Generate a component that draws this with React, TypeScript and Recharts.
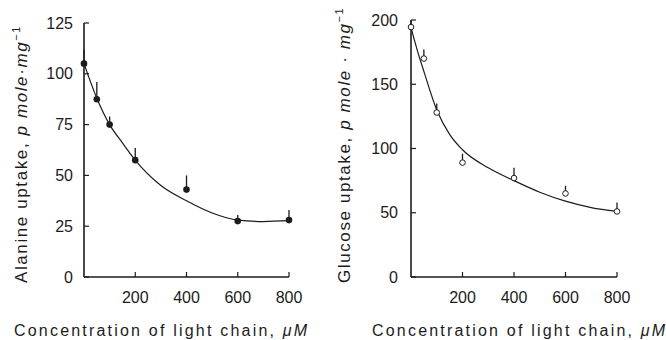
import React from 'react';
import { ComposedChart, Line, Scatter, ErrorBar, XAxis, YAxis, Label } from 'recharts';

// concentration of light chain (µM)
const doses = [0, 50, 100, 200, 400, 600, 800];
const xTicks = [200, 400, 600, 800];

// alanine uptake (left panel)
const alanineMeans = [105, 87.5, 75, 57.5, 43, 27.5, 28];
const alanineErrUp = [7, 8.5, 4, 6, 7, 3, 5];
const alanineCurveX = [0, 50, 100, 150, 200, 300, 400, 500, 600, 700, 800];
const alanineCurveY = [105, 88, 75, 66, 57.5, 45, 37.5, 31.5, 28, 27.3, 27.7];
const alanineTicks = [0, 25, 50, 75, 100, 125];

// glucose uptake (right panel)
const glucoseMeans = [194.5, 170, 128, 89, 77, 65, 51];
const glucoseErrUp = [5, 7, 7, 7, 8, 6, 7];
const glucoseCurveX = [0, 25, 50, 100, 150, 200, 300, 400, 500, 600, 700, 800];
const glucoseCurveY = [194, 176, 160, 130, 111, 99, 85, 75, 66, 59, 54, 51];
const glucoseTicks = [0, 50, 100, 150, 200];

const FONT = '"Liberation Sans", Arial, sans-serif';
const INK = '#1c1c1c';

const toPoints = (means: number[], errUp: number[]) =>
  doses.map((x, i) => ({ x, y: means[i], err: [0, errUp[i]] }));

const toCurve = (xs: number[], ys: number[]) => xs.map((x, i) => ({ x, y: ys[i] }));

type PanelProps = {
  points: { x: number; y: number; err: number[] }[];
  curve: { x: number; y: number }[];
  yTicks: number[];
  yMax: number;
  filled: boolean;
  margin: { top: number; right: number; bottom: number; left: number };
  yWidth: number;
  yTickMargin: number;
  yLabel: React.ReactNode;
  yLabelX: number;
  xTitleX: number;
};

const Panel: React.FC<PanelProps> = (p) => {
  const dot = (props: any) =>
    p.filled ? (
      <circle cx={props.cx} cy={props.cy} r={3.3} fill={INK} />
    ) : (
      <circle cx={props.cx} cy={props.cy} r={2.8} fill="#fff" stroke={INK} strokeWidth={1} />
    );

  return (
    <ComposedChart width={333} height={340} margin={p.margin}>
      <XAxis
        type="number"
        dataKey="x"
        domain={[0, 800]}
        ticks={xTicks}
        height={30}
        tickSize={-5}
        tickMargin={20}
        axisLine={{ stroke: INK, strokeWidth: 1.4 }}
        tickLine={{ stroke: INK, strokeWidth: 1.2 }}
        tick={{ fill: INK, fontSize: 16, fontFamily: FONT }}
      >
        <Label
          content={() => (
            <text
              x={p.xTitleX}
              y={336}
              fill={INK}
              fontSize={16}
              fontFamily={FONT}
              letterSpacing={2.2}
            >
              Concentration of light chain, <tspan fontStyle="italic">μM</tspan>
            </text>
          )}
        />
      </XAxis>
      <YAxis
        type="number"
        domain={[0, p.yMax]}
        ticks={p.yTicks}
        width={p.yWidth}
        tickSize={-5}
        tickMargin={p.yTickMargin}
        axisLine={{ stroke: INK, strokeWidth: 1.6 }}
        tickLine={{ stroke: INK, strokeWidth: 1.2 }}
        tick={{ fill: INK, fontSize: 16, fontFamily: FONT }}
      >
        <Label
          content={() => (
            <text
              x={p.yLabelX}
              y={283}
              transform={`rotate(-90, ${p.yLabelX}, 283)`}
              fill={INK}
              fontSize={17}
              fontFamily={FONT}
              letterSpacing={1.6}
            >
              {p.yLabel}
            </text>
          )}
        />
      </YAxis>
      <Line
        data={p.curve}
        dataKey="y"
        type="monotone"
        dot={false}
        stroke={INK}
        strokeWidth={1.2}
        isAnimationActive={false}
      />
      <Scatter data={p.points} dataKey="y" shape={dot} isAnimationActive={false}>
        <ErrorBar dataKey="err" direction="y" width={0} stroke={INK} strokeWidth={1.3} />
      </Scatter>
    </ComposedChart>
  );
};

export default function App() {
  return (
    <div style={{ position: 'absolute', left: 0, top: 0, width: 666, height: 340, background: '#fff' }}>
      <div style={{ position: 'absolute', left: 0, top: 0 }}>
        <Panel
          points={toPoints(alanineMeans, alanineErrUp)}
          curve={toCurve(alanineCurveX, alanineCurveY)}
          yTicks={alanineTicks}
          yMax={125}
          filled
          margin={{ top: 23, right: 44, bottom: 33, left: 0 }}
          yWidth={84}
          yTickMargin={16}
          yLabelX={27}
          xTitleX={14}
          yLabel={
            <>
              Alanine uptake, <tspan fontStyle="italic">p mole·mg</tspan>
              <tspan dy={-7} fontSize={11}>−1</tspan>
            </>
          }
        />
      </div>
      <div style={{ position: 'absolute', left: 333, top: 0 }}>
        <Panel
          points={toPoints(glucoseMeans, glucoseErrUp)}
          curve={toCurve(glucoseCurveX, glucoseCurveY)}
          yTicks={glucoseTicks}
          yMax={200}
          filled={false}
          margin={{ top: 20, right: 49, bottom: 33, left: 0 }}
          yWidth={78}
          yTickMargin={18}
          yLabelX={17}
          xTitleX={39}
          yLabel={
            <>
              Glucose uptake, <tspan fontStyle="italic">p mole · mg</tspan>
              <tspan dy={-7} fontSize={11}>−1</tspan>
            </>
          }
        />
      </div>
    </div>
  );
}
